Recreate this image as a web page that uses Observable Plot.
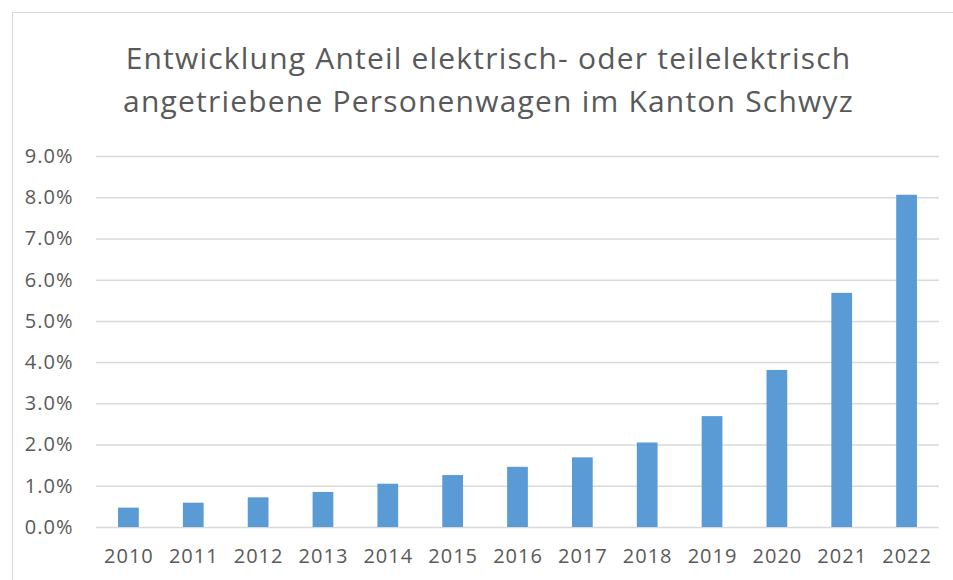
<!DOCTYPE html>
<html>
<head>
<meta charset="utf-8">
<script src="https://cdn.jsdelivr.net/npm/d3@7"></script>
<script src="https://cdn.jsdelivr.net/npm/@observablehq/plot@0.6"></script>
<style>
  html, body { margin: 0; padding: 0; background: #fff; overflow: hidden; }
  #frame { position: absolute; left: 12px; top: 12px; width: 960px; height: 580px; border: 1px solid #d9d9d9; box-sizing: border-box; }
  #title { position: absolute; left: 12px; top: 36px; width: 953px; text-align: center; font-family: "Open Sans", sans-serif; font-size: 30px; letter-spacing: 1.2px; line-height: 43px; color: #595959; }
  #chart { position: absolute; left: 0; top: 130px; }
</style>
</head>
<body>
<div id="frame"></div>
<div id="title">Entwicklung Anteil elektrisch- oder teilelektrisch<br>angetriebene Personenwagen im Kanton Schwyz</div>
<div id="chart"></div>
<script>
const years = ["2010","2011","2012","2013","2014","2015","2016","2017","2018","2019","2020","2021","2022"];
const shares = [0.47, 0.59, 0.72, 0.85, 1.05, 1.26, 1.46, 1.69, 2.05, 2.69, 3.81, 5.68, 8.06];
const yTicks = [0,1,2,3,4,5,6,7,8,9];

const data = years.map((y, i) => ({year: y, share: shares[i]}));

const chart = Plot.plot({
  width: 953,
  height: 450,
  marginTop: 26,
  marginBottom: 53,
  marginLeft: 96,
  marginRight: 14,
  style: { fontFamily: "Open Sans, sans-serif", fontSize: "20px", letterSpacing: "1px", color: "#595959", background: "transparent" },
  x: { domain: years, paddingInner: 0.68, paddingOuter: 0.34, round: false, label: null, tickSize: 0, tickPadding: 21 },
  y: { domain: [0, 9], ticks: yTicks, label: null, tickSize: 0, tickPadding: 23, tickFormat: d => d.toFixed(1) + "%" },
  marks: [
    Plot.gridY(yTicks, { stroke: "#d9d9d9", strokeOpacity: 1, strokeWidth: 1.5 }),
    Plot.barY(data, { x: "year", y: "share", fill: "#5b9bd5" })
  ]
});
document.getElementById("chart").appendChild(chart);
</script>
</body>
</html>
